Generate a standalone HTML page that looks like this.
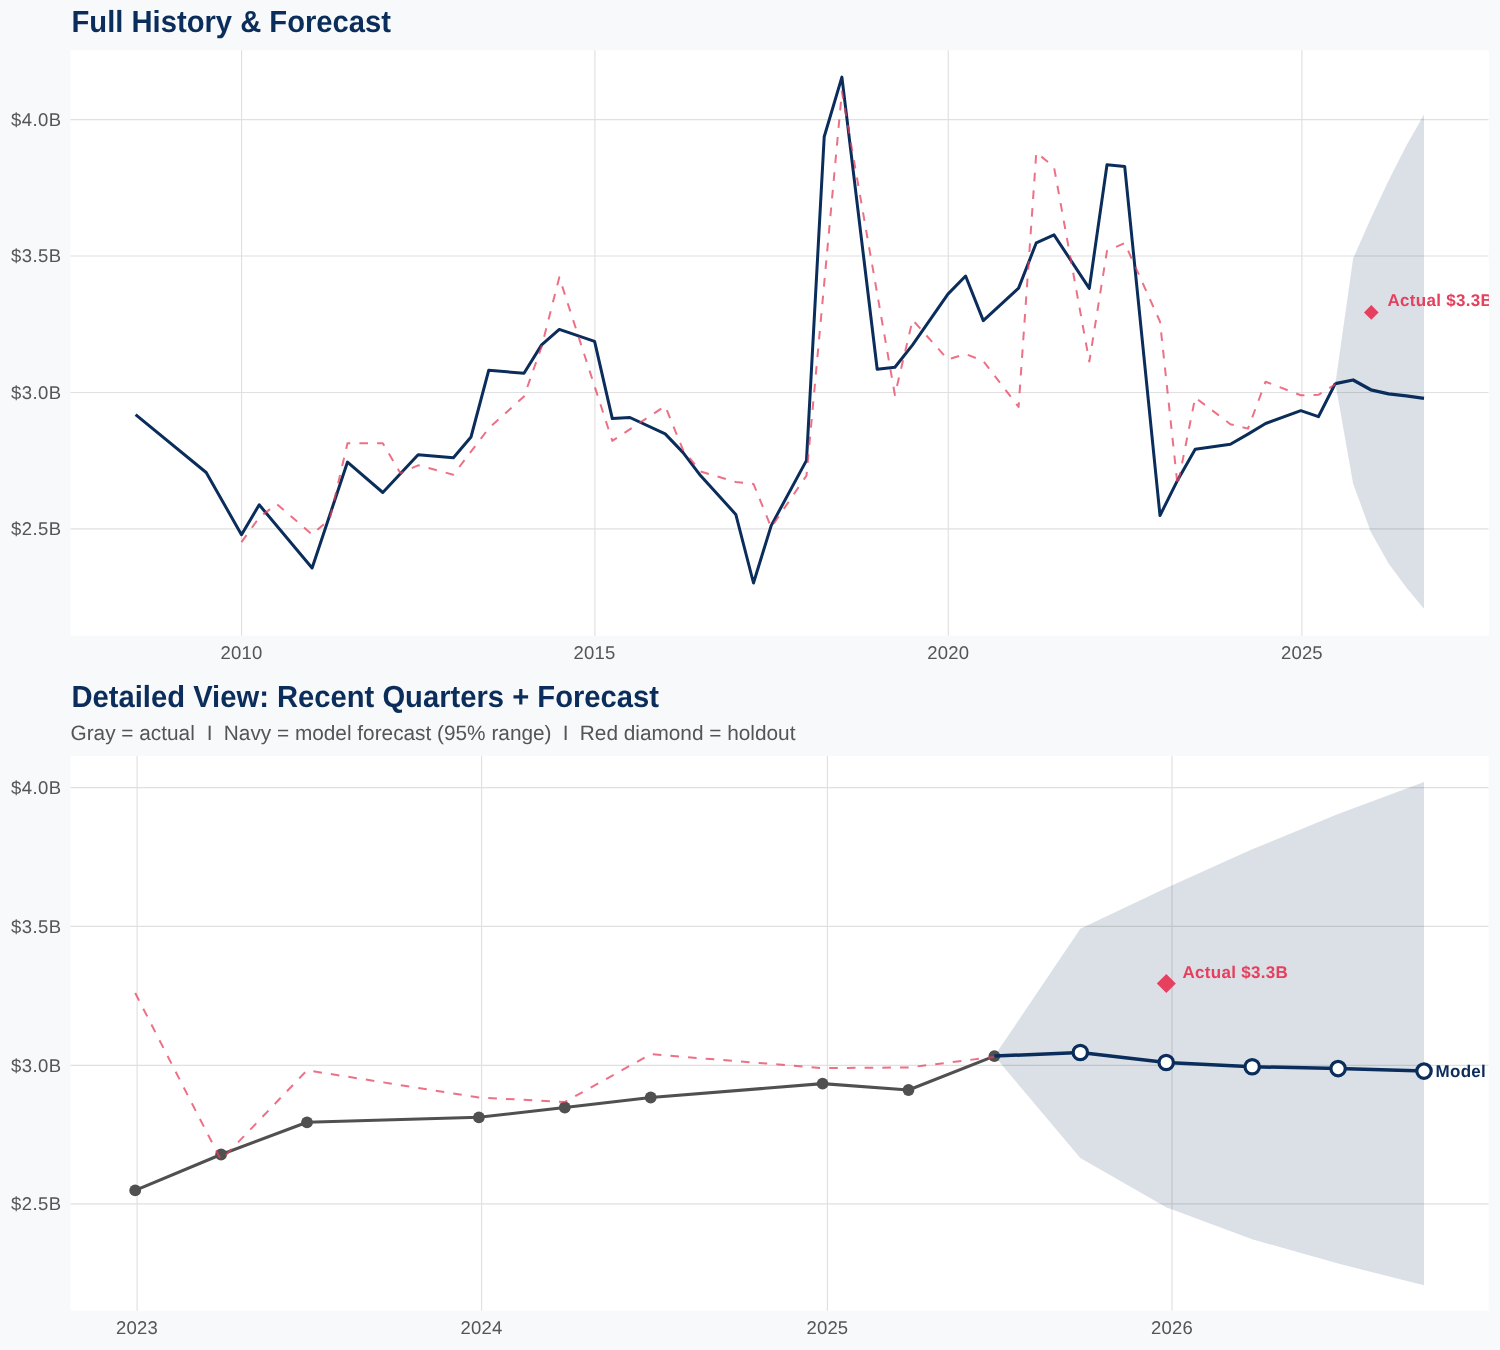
<!DOCTYPE html>
<html><head><meta charset="utf-8"><title>Full History &amp; Forecast</title>
<style>
html,body{margin:0;padding:0;background:#f8f9fa;}
body{width:1500px;height:1350px;overflow:hidden;position:relative;font-family:"Liberation Sans",sans-serif;}
svg{position:absolute;left:0;top:0;display:block;will-change:transform;}
svg text{font-family:"Liberation Sans",sans-serif;text-rendering:geometricPrecision;}
.t{text-rendering:geometricPrecision;font-weight:bold;font-size:29.2px;fill:#0b2d5b;}
.ax{font-size:18.5px;fill:#555555;}
.lab{font-weight:bold;font-size:17px;letter-spacing:0.3px;fill:#e5405e;}
</style></head>
<body>
<svg width="1500" height="1350" viewBox="0 0 1500 1350">
<defs>
<clipPath id="c1"><rect x="70.5" y="50.3" width="1418.4" height="585.4"/></clipPath>
<clipPath id="c2"><rect x="70.5" y="756" width="1418.2" height="554.8"/></clipPath>
</defs>
<rect x="0" y="0" width="1500" height="1350" fill="#f8f9fa"/>

<!-- ===== TOP CHART ===== -->
<text class="t" transform="translate(71.5,31.9) scale(1,1.045)">Full History &amp; Forecast</text>
<rect x="70.5" y="50.3" width="1418.4" height="585.4" fill="#fff"/>
<g stroke="#e0e0e0" stroke-width="1.15" fill="none">
<line x1="70.5" x2="1488.5" y1="119.55" y2="119.55"/>
<line x1="70.5" x2="1488.5" y1="256.0" y2="256.0"/>
<line x1="70.5" x2="1488.5" y1="392.45" y2="392.45"/>
<line x1="70.5" x2="1488.5" y1="528.85" y2="528.85"/>
<line y1="50.3" y2="635.7" x1="241.55" x2="241.55"/>
<line y1="50.3" y2="635.7" x1="594.9" x2="594.9"/>
<line y1="50.3" y2="635.7" x1="948.25" x2="948.25"/>
<line y1="50.3" y2="635.7" x1="1301.9" x2="1301.9"/>
</g>
<g clip-path="url(#c1)">
<polygon points="1335.4,383.6 1353.1,258.5 1370.8,218.4 1388.6,180.5 1406.3,145.8 1424.0,114.4 1424.0,608.7 1406.3,587.4 1388.6,563.5 1370.8,531.9 1353.1,483.5 1335.4,383.6" fill="#0b2d5b" fill-opacity="0.15"/>
<polyline points="135.6,414.7 206.2,472.5 241.5,534.7 259.2,504.8 312.1,568.0 347.5,462.1 382.8,492.5 418.1,454.7 453.4,457.8 471.0,437.0 488.7,370.3 524.0,373.3 541.6,344.9 559.3,329.4 594.6,341.3 612.3,418.6 629.9,417.5 665.2,433.9 682.9,452.4 700.5,475.6 735.8,514.4 753.5,583.0 771.2,525.6 806.5,460.4 824.2,136.8 841.9,77.1 877.2,369.3 894.9,367.2 912.6,344.9 947.9,294.1 965.6,276.0 983.3,320.6 1018.6,288.1 1036.3,242.8 1054.0,234.8 1089.3,288.4 1107.0,164.7 1124.7,166.4 1160.0,515.5 1177.6,480.2 1195.2,449.2 1230.4,444.2 1248.0,434.1 1265.6,423.5 1300.8,410.7 1318.4,416.7 1335.4,383.3" fill="none" stroke="#0b2d5b" stroke-width="3" stroke-linejoin="round"/>
<polyline points="1335.4,383.6 1353.1,380.0 1370.8,389.8 1388.6,393.9 1406.3,395.8 1424.0,398.3" fill="none" stroke="#0b2d5b" stroke-width="3.3" stroke-linejoin="round"/>
<polyline points="241.5,542.1 259.2,517.5 276.8,504.0 312.1,534.5 329.8,519.0 347.5,443.2 382.8,443.2 400.4,473.3 418.1,465.3 453.4,474.7 488.7,428.4 524.0,396.4 541.6,346.7 559.3,277.3 612.3,440.9 665.2,406.1 682.9,449.6 700.5,471.5 735.8,482.0 753.5,483.9 771.2,527.4 806.5,475.6 841.9,91.5 894.9,395.0 912.6,320.0 947.9,359.5 965.6,354.0 983.3,361.0 1018.6,407.0 1036.3,152.5 1054.0,167.0 1089.3,361.6 1107.0,250.8 1124.7,243.1 1160.0,321.6 1177.6,485.7 1195.2,397.5 1230.4,424.2 1248.0,428.6 1265.6,381.7 1300.8,395.3 1318.4,394.8 1335.4,384.4" fill="none" stroke="#e5405e" stroke-opacity="0.75" stroke-width="2" stroke-dasharray="8.6 9.1" stroke-linejoin="round"/>
<path d="M1371.3,305.1 L1378.6,312.4 L1371.3,319.7 L1364.0,312.4 Z" fill="#e5405e"/>
<text class="lab" x="1387.5" y="305.7">Actual $3.3B</text>
</g>
<g class="ax" text-anchor="end" style="letter-spacing:0.45px">
<text x="61.6" y="125.8">$4.0B</text>
<text x="61.6" y="262.3">$3.5B</text>
<text x="61.6" y="398.8">$3.0B</text>
<text x="61.6" y="535.3">$2.5B</text>
</g>
<g class="ax" text-anchor="middle" style="letter-spacing:0.2px">
<text x="241.55" y="659">2010</text>
<text x="594.6" y="659">2015</text>
<text x="948.25" y="659">2020</text>
<text x="1301.9" y="659">2025</text>
</g>

<!-- ===== BOTTOM CHART ===== -->
<text class="t" transform="translate(71.5,706.9) scale(1,1.045)">Detailed View: Recent Quarters + Forecast</text>
<g style="font-size:20.8px;fill:#555555">
<text x="70.5" y="740.1">Gray = actual</text>
<text x="206.7" y="740.1">I</text>
<text x="223.8" y="740.1">Navy = model forecast (95% range)</text>
<text x="562.7" y="740.1">I</text>
<text x="579.8" y="740.1">Red diamond = holdout</text>
</g>
<rect x="70.5" y="756" width="1418.2" height="554.8" fill="#fff"/>
<g stroke="#e0e0e0" stroke-width="1.15" fill="none">
<line x1="70.5" x2="1488.5" y1="787.6" y2="787.6"/>
<line x1="70.5" x2="1488.5" y1="926.4" y2="926.4"/>
<line x1="70.5" x2="1488.5" y1="1065.3" y2="1065.3"/>
<line x1="70.5" x2="1488.5" y1="1203.9" y2="1203.9"/>
<line y1="756" y2="1310.8" x1="137.1" x2="137.1"/>
<line y1="756" y2="1310.8" x1="481.6" x2="481.6"/>
<line y1="756" y2="1310.8" x1="827.4" x2="827.4"/>
<line y1="756" y2="1310.8" x1="1172.0" x2="1172.0"/>
</g>
<g clip-path="url(#c2)">
<polygon points="994.4,1056.1 1080.3,928.8 1166.2,887.9 1252.2,849.3 1338.1,814.0 1424.0,782.0 1424.0,1285.3 1338.1,1263.6 1252.2,1239.3 1166.2,1207.2 1080.3,1157.9 994.4,1056.1" fill="#0b2d5b" fill-opacity="0.15"/>
<polyline points="135.2,1190.4 221.1,1154.5 307.0,1122.3 478.9,1117.3 564.8,1107.5 650.7,1097.5 822.6,1083.6 908.5,1090.0 994.4,1056.1" fill="none" stroke="#505050" stroke-width="3.1" stroke-linejoin="round"/>
<g fill="#505050">
<circle cx="135.2" cy="1190.4" r="5.9"/>
<circle cx="221.1" cy="1154.5" r="5.9"/>
<circle cx="307.0" cy="1122.3" r="5.9"/>
<circle cx="478.9" cy="1117.3" r="5.9"/>
<circle cx="564.8" cy="1107.5" r="5.9"/>
<circle cx="650.7" cy="1097.5" r="5.9"/>
<circle cx="822.6" cy="1083.6" r="5.9"/>
<circle cx="908.5" cy="1090.0" r="5.9"/>
<circle cx="994.4" cy="1056.1" r="5.9"/>
</g>
<polyline points="135.2,993.0 221.1,1160.1 307.0,1070.3 478.9,1097.5 564.8,1102.0 650.7,1054.2 822.6,1068.1 908.5,1067.5 994.4,1056.9" fill="none" stroke="#e5405e" stroke-opacity="0.75" stroke-width="2" stroke-dasharray="8.6 9.1" stroke-linejoin="round"/>
<polyline points="994.4,1056.1 1080.3,1052.5 1166.2,1062.5 1252.2,1066.7 1338.1,1068.6 1424.0,1071.1" fill="none" stroke="#0b2d5b" stroke-width="3.5" stroke-linejoin="round"/>
<g fill="#fff" stroke="#0b2d5b" stroke-width="3.25">
<circle cx="1080.3" cy="1052.5" r="7.2"/>
<circle cx="1166.2" cy="1062.5" r="7.2"/>
<circle cx="1252.2" cy="1066.7" r="7.2"/>
<circle cx="1338.1" cy="1068.6" r="7.2"/>
<circle cx="1424.0" cy="1071.1" r="7.2"/>
</g>
<path d="M1166.3,974.0 L1175.8,983.5 L1166.3,993.0 L1156.8,983.5 Z" fill="#e5405e"/>
<text class="lab" x="1182.5" y="978">Actual $3.3B</text>
<text x="1435.5" y="1077" style="font-weight:bold;font-size:17px;letter-spacing:0.3px;fill:#0b2d5b">Model</text>
</g>
<g class="ax" text-anchor="end" style="letter-spacing:0.45px">
<text x="61.6" y="793.9">$4.0B</text>
<text x="61.6" y="932.7">$3.5B</text>
<text x="61.6" y="1071.5">$3.0B</text>
<text x="61.6" y="1210.3">$2.5B</text>
</g>
<g class="ax" text-anchor="middle" style="letter-spacing:0.2px">
<text x="137.1" y="1334">2023</text>
<text x="481.6" y="1334">2024</text>
<text x="827.4" y="1334">2025</text>
<text x="1172.0" y="1334">2026</text>
</g>
</svg>
</body></html>
